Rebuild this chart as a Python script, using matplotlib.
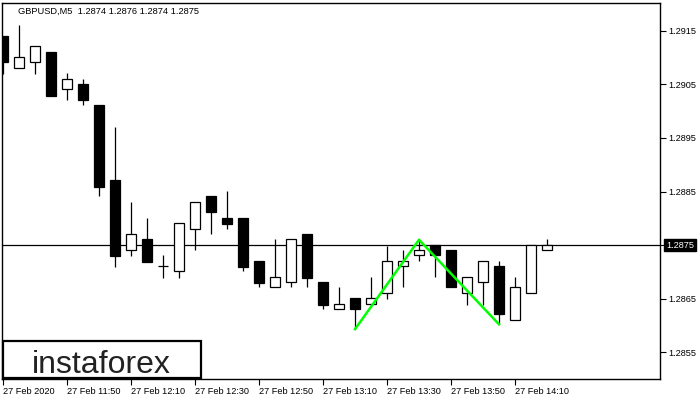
import numpy as np
import matplotlib.pyplot as plt
import matplotlib.patches as patches
import matplotlib.transforms as mtransforms

# GBPUSD M5 candles, 27 Feb 2020 from 11:30
opens = [1.29141, 1.29080, 1.29092, 1.29111, 1.29041, 1.29051, 1.29012, 1.28872, 1.28741, 1.28762,
         1.28711, 1.28701, 1.28780, 1.28842, 1.28801, 1.28801, 1.28721, 1.28671, 1.28681, 1.28771,
         1.28681, 1.28630, 1.28651, 1.28640, 1.28660, 1.28711, 1.28731, 1.28750, 1.28741, 1.28660,
         1.28681, 1.28711, 1.28610, 1.28660, 1.28741]
highs = [1.29141, 1.29161, 1.29121, 1.29111, 1.29072, 1.29060, 1.29012, 1.28971, 1.28831, 1.28801,
         1.28732, 1.28791, 1.28831, 1.28842, 1.28851, 1.28801, 1.28721, 1.28762, 1.28761, 1.28771,
         1.28681, 1.28672, 1.28651, 1.28691, 1.28749, 1.28741, 1.28760, 1.28750, 1.28741, 1.28690,
         1.28721, 1.28721, 1.28690, 1.28751, 1.28762]
lows = [1.29070, 1.29080, 1.29070, 1.29029, 1.29020, 1.29011, 1.28841, 1.28710, 1.28730, 1.28719,
        1.28689, 1.28689, 1.28740, 1.28770, 1.28780, 1.28701, 1.28671, 1.28671, 1.28671, 1.28671,
        1.28630, 1.28630, 1.28593, 1.28640, 1.28650, 1.28671, 1.28720, 1.28690, 1.28671, 1.28639,
        1.28638, 1.28602, 1.28610, 1.28660, 1.28741]
closes = [1.29091, 1.29101, 1.29121, 1.29029, 1.29060, 1.29020, 1.28859, 1.28730, 1.28770, 1.28719,
          1.28711, 1.28791, 1.28831, 1.28811, 1.28790, 1.28710, 1.28680, 1.28690, 1.28761, 1.28689,
          1.28639, 1.28640, 1.28630, 1.28651, 1.28721, 1.28721, 1.28741, 1.28731, 1.28671, 1.28690,
          1.28721, 1.28621, 1.28671, 1.28751, 1.28750]

# double top pattern (low - high - low)
pattern_idx = [22, 26, 31]
pattern_px = [1.28593, 1.28760, 1.28602]

xtick_pos = [0, 4, 8, 12, 16, 20, 24, 28, 32]
xtick_labels = ['27 Feb 2020', '27 Feb 11:50', '27 Feb 12:10', '27 Feb 12:30', '27 Feb 12:50',
                '27 Feb 13:10', '27 Feb 13:30', '27 Feb 13:50', '27 Feb 14:10']
ytick_vals = [1.2855, 1.2865, 1.2875, 1.2885, 1.2895, 1.2905, 1.2915]

title = 'GBPUSD,M5  1.2874 1.2876 1.2874 1.2875'
bid = 1.2875

plt.rcParams['font.family'] = ['Liberation Sans', 'DejaVu Sans']

fig = plt.figure(figsize=(7, 4), dpi=100)
ax = fig.add_axes([2 / 700, 21 / 400, 658 / 700, 376 / 400])

x = np.arange(len(opens))
o = np.array(opens)
c = np.array(closes)

ax.vlines(x, lows, highs, color='black', linewidth=0.9, zorder=2)
body_bottom = np.minimum(o, c)
body_height = np.abs(c - o)
body_colors = ['black' if cc < oo else 'white' for oo, cc in zip(o, c)]
ax.bar(x, body_height, bottom=body_bottom, width=0.66, color=body_colors,
       edgecolor='black', linewidth=0.9, zorder=3)

ax.axhline(bid, color='black', linewidth=0.9, zorder=1)
ax.plot(pattern_idx, pattern_px, color='#00ff00', linewidth=1.8, zorder=4)

ax.set_xlim(-0.06, 41.06)
ax.set_ylim(1.28500, 1.29202)

ax.yaxis.tick_right()
ax.set_yticks(ytick_vals)
ax.set_yticklabels([f'{v:.4f}' for v in ytick_vals])
ax.set_xticks(xtick_pos)
ax.set_xticklabels(xtick_labels, ha='left')
ax.tick_params(axis='both', labelsize=6.6, length=4, width=0.8, colors='black', pad=2)
for lbl in ax.get_yticklabels():
    if lbl.get_text() == '1.2875':
        lbl.set_visible(False)
for sp in ax.spines.values():
    sp.set_linewidth(1)
    sp.set_color('black')

# current price tag on the right scale
trans = mtransforms.blended_transform_factory(ax.transAxes, ax.transData)
ax.text(1.0 + 6 / 658, bid, f'{bid:.4f}', transform=trans, fontsize=6.6, color='white',
        va='center', ha='left', clip_on=False,
        bbox=dict(boxstyle='square,pad=0.2', facecolor='black', edgecolor='black'))

fig.text(18 / 700, 1 - 11 / 400, title, fontsize=6.7, va='center', ha='left', color='black')

# logo box
fig.patches.append(patches.Rectangle((3 / 700, 22 / 400), 198 / 700, 37 / 400,
                                     transform=fig.transFigure, facecolor='white',
                                     edgecolor='black', linewidth=1.6, zorder=5))
fig.text(101 / 700, 27 / 400, 'instaforex', fontsize=23,
         color='#222222', ha='center', va='baseline', zorder=6)

fig.savefig('out.png', dpi=100)
